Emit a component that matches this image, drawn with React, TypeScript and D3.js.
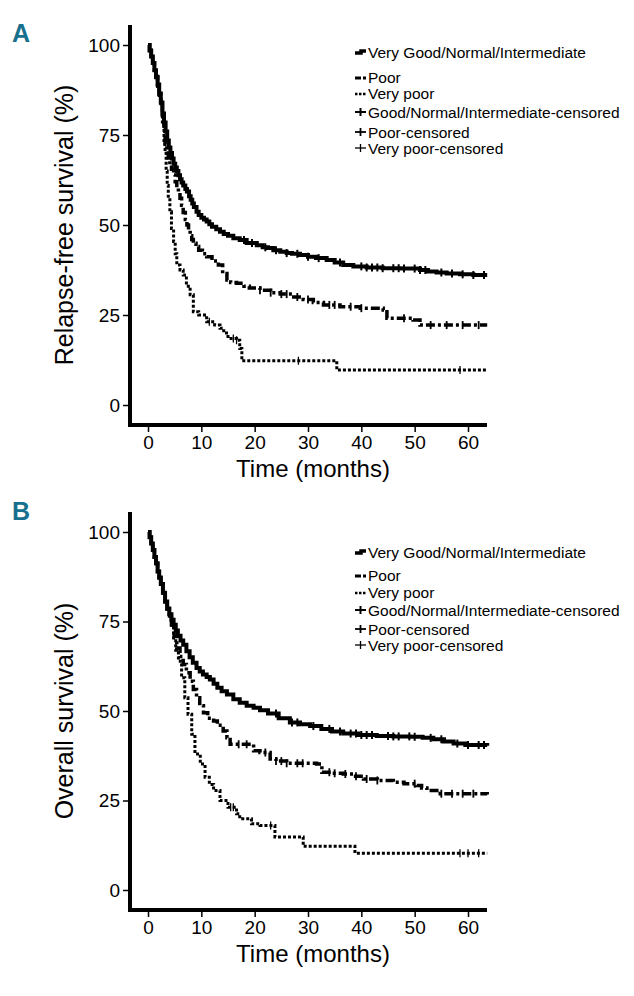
import React, { useEffect, useRef } from 'react'
import * as d3 from 'd3'

const monthTicks = [0, 10, 20, 30, 40, 50, 60]
const survivalTicks = [0, 25, 50, 75, 100]

const legendLabels = [
  'Very Good/Normal/Intermediate',
  'Poor',
  'Very poor',
  'Good/Normal/Intermediate-censored',
  'Poor-censored',
  'Very poor-censored',
]

// A: relapse-free survival, [month, %]
const rfsVeryGood = [
  [0, 100], [0.3, 98.5], [0.6, 96.8], [0.9, 95], [1.2, 93], [1.5, 91.2], [1.8, 89], [2.1, 86.5], [2.4, 84],
  [2.7, 81], [3, 78.5], [3.3, 76], [3.6, 73.5], [3.9, 71.5], [4.2, 70], [4.5, 68.5], [4.8, 67], [5.1, 66],
  [5.4, 65], [5.7, 63.8], [6, 62.7], [6.3, 61.8], [6.6, 61], [7, 60], [7.3, 59.3], [7.7, 58], [8, 57],
  [8.3, 56], [8.6, 55], [9.1, 53.7], [9.5, 52.8], [10, 52], [10.5, 51.5], [11, 51], [11.5, 50.2], [12, 49.5],
  [12.8, 48.8], [13.5, 48.1], [14.2, 47.5], [15, 47], [16, 46.3], [17.2, 45.8], [18.5, 45], [20.4, 44.4],
  [21.5, 43.8], [22.5, 43.6], [23.5, 43], [24.8, 42.6], [26, 42.2], [27, 42], [28.5, 41.7], [30, 41.2],
  [31.5, 40.8], [33.5, 40.3], [35, 39.6], [36.6, 38.9], [38.5, 38.5], [41, 38.2], [44, 38], [47.3, 37.9],
  [51, 37.5], [52.5, 37.1], [54.1, 36.8], [56, 36.5], [58.5, 36.3], [61, 36.1], [63.6, 36.1],
]
const rfsVeryGoodCensored = [18, 19.5, 22, 24, 26, 28, 30, 32, 36, 40, 41, 42, 43, 44, 46, 47, 48, 50, 51, 52, 55, 57, 59, 61, 63]

const rfsPoor = [
  [0, 100], [0.3, 98.5], [0.6, 96.8], [0.9, 95], [1.2, 93], [1.5, 91], [1.8, 88.8], [2.1, 86.3], [2.4, 83.8],
  [2.7, 80.5], [3, 76.5], [3.2, 72.5], [3.5, 70], [3.8, 68], [4.1, 66.8], [4.4, 65.5], [4.8, 63.9], [5.1, 62],
  [5.4, 60.5], [5.7, 59], [6, 57.4], [6.3, 55.5], [6.6, 53.5], [7, 51.5], [7.3, 50], [7.6, 48.5], [7.9, 47],
  [8.2, 46], [8.5, 44.9], [9, 44], [9.5, 43], [10.2, 42], [11, 41.2], [12, 40], [13.2, 38.9], [14, 36.5],
  [14.8, 34.7], [15.5, 34], [16.6, 33.8], [18, 33], [19, 32.5], [21, 31.9], [23, 31.2], [24.8, 30.8], [27, 30],
  [29.1, 29.3], [31, 28.5], [32.9, 27.8], [36, 27.3], [39.8, 26.9], [44.1, 26.4], [44.8, 24.1], [49.7, 23.6],
  [51, 22.2], [63.6, 22.2],
]
const rfsPoorCensored = [21, 23, 25, 26, 28, 30, 34, 35, 38, 40, 48, 53, 56, 59, 62]

const rfsVeryPoor = [
  [0, 100], [0.3, 98.5], [0.6, 96.8], [0.9, 95], [1.2, 93], [1.5, 91], [1.8, 88.5], [2.1, 86], [2.4, 83],
  [2.7, 78], [3, 73], [3.2, 70.4], [3.4, 65], [3.6, 61], [3.8, 58], [4.1, 53.7], [4.4, 49], [4.8, 45.4],
  [5.1, 42], [5.4, 38.9], [6, 37.5], [6.6, 36.1], [7.2, 33], [7.9, 30.6], [8.5, 25.9], [9.5, 25], [11, 23.1],
  [12.5, 22.2], [13.5, 21.3], [14.2, 20], [15, 18.5], [16.6, 18], [17.2, 15.7], [17.6, 12.3], [35.4, 9.7],
  [63.6, 9.7],
]
const rfsVeryPoorCensored = [11.5, 16, 16.6, 28.2, 58.5]

// B: overall survival, [month, %]
const osVeryGood = [
  [0, 100], [0.3, 98.5], [0.6, 96.8], [0.9, 95], [1.2, 93], [1.5, 91.3], [1.8, 89], [2.1, 87.3], [2.4, 85.5],
  [2.8, 83], [3.2, 80.6], [3.6, 78.6], [4, 77], [4.4, 75.5], [4.8, 74.1], [5.2, 72.5], [5.6, 71], [6.1, 69.7],
  [6.6, 68.5], [7.2, 66.7], [7.8, 65], [8.4, 63.5], [9.1, 62], [9.7, 61], [10.3, 60.2], [11, 59.5],
  [11.6, 58.8], [12.3, 57.6], [13, 56.5], [13.8, 55.5], [14.8, 54.6], [16, 53.3], [17.2, 52.3], [18.5, 51.5],
  [19.8, 50.9], [21, 50.2], [22.5, 49.3], [24.5, 48], [26.6, 46.8], [28.5, 46.3], [30.4, 45.8], [32.5, 45],
  [34.5, 44.3], [36.6, 43.7], [39.5, 43.3], [42.9, 43], [46, 42.9], [49.1, 42.8], [51.5, 42.5], [53.5, 42.1],
  [55.5, 41.5], [57.3, 40.9], [59.5, 40.5], [63.6, 40.3],
]
const osVeryGoodCensored = [24, 27, 28, 31, 34, 36, 38, 39, 40, 41, 42, 45, 46, 47, 49, 50, 53, 55, 58, 60, 62, 63]

const osPoor = [
  [0, 100], [0.3, 98.5], [0.6, 96.8], [0.9, 95], [1.2, 93], [1.5, 91.2], [1.8, 89], [2.1, 87.2], [2.4, 85.5],
  [2.8, 83], [3.2, 80.5], [3.6, 78.4], [4, 76.5], [4.4, 74], [4.9, 70.8], [5.4, 67.6], [6, 65.2], [6.6, 63],
  [7.2, 60.7], [7.9, 58.3], [8.5, 56], [9.1, 53.7], [9.7, 51.5], [10.4, 49.5], [11.2, 48], [12.3, 47.2],
  [13, 46], [14.1, 44.4], [14.8, 42.5], [15.4, 40.7], [19.8, 38.9], [21, 38.4], [22.9, 36.6], [24, 36],
  [26, 35.4], [31.6, 35.2], [32.6, 32.9], [34.5, 32.6], [36.6, 32.4], [38.5, 31.8], [40.4, 31], [43, 30.6],
  [46, 30.1], [48, 29.7], [50.4, 29.2], [51.3, 28.5], [52.3, 27.8], [54.8, 26.9], [63.6, 26.7],
]
const osPoorCensored = [17, 18.5, 22, 24, 25, 26, 28, 29, 34, 35, 37, 39, 41, 43, 50, 55, 57, 59, 61]

const osVeryPoor = [
  [0, 100], [0.3, 98.5], [0.6, 96.8], [0.9, 95], [1.2, 93], [1.5, 91.2], [1.8, 89], [2.1, 87.2], [2.4, 85.5],
  [2.8, 83], [3.2, 80.5], [3.6, 78.4], [4, 76.5], [4.4, 73.5], [4.8, 70.4], [5.2, 67], [5.7, 63.9],
  [6.3, 59.3], [6.9, 53.7], [7.5, 49.1], [8.2, 43.5], [8.8, 38], [9.8, 35.2], [10.7, 31.5], [11.5, 29.5],
  [12.3, 27.8], [13.5, 25], [15, 23.1], [16.6, 21.3], [17.2, 19.9], [19.4, 18.5], [21, 18], [23.8, 14.8],
  [29.1, 12.2], [38.8, 10.3], [63.6, 10.3],
]
const osVeryPoorCensored = [15.5, 16, 23, 58.5, 60, 62]

const FONT = "'Liberation Sans', Arial, sans-serif"
const TEAL = '#16708e'

const lineStyles = [
  { width: 4, dash: null, legendDash: null, tick: 2 },
  { width: 3.5, dash: '9,3,3,3', legendDash: '6,2,3', tick: 1.8 },
  { width: 3, dash: '3,2', legendDash: '2.5,1.5', tick: 1.3 },
]

const panels = [
  {
    letter: 'A', yLabel: 'Relapse-free survival (%)',
    curves: [[rfsVeryGood, rfsVeryGoodCensored], [rfsPoor, rfsPoorCensored], [rfsVeryPoor, rfsVeryPoorCensored]],
    top: 25, y0: 405, y100: 45, axisY: 425, letterY: 42,
    legendY: [52, 77, 93, 112, 132, 148],
  },
  {
    letter: 'B', yLabel: 'Overall survival (%)',
    curves: [[osVeryGood, osVeryGoodCensored], [osPoor, osPoorCensored], [osVeryPoor, osVeryPoorCensored]],
    top: 512, y0: 890, y100: 532, axisY: 910, letterY: 520,
    legendY: [552, 575, 592, 610, 629, 645],
  },
]

const survAt = (pts: number[][], t: number) => {
  let v = pts[0][1]
  for (const p of pts) if (p[0] <= t) v = p[1]
  return v
}

export default function App() {
  const ref = useRef<SVGSVGElement>(null)

  useEffect(() => {
    const svg = d3.select(ref.current)
    svg.selectAll('*').remove()

    const x = d3.scaleLinear().domain([0, 60]).range([148, 468])
    const axisX = 130
    const axisRight = 487

    panels.forEach(p => {
      const y = d3.scaleLinear().domain([0, 100]).range([p.y0, p.y100])
      const g = svg.append('g')

      g.append('text').text(p.letter)
        .attr('x', 12).attr('y', p.letterY)
        .attr('font-family', FONT).attr('font-weight', 'bold')
        .attr('font-size', 25).attr('fill', TEAL)

      // axes
      const yAxis = d3.axisLeft(y).tickValues(survivalTicks).tickSize(7).tickSizeOuter(0).tickPadding(3)
      const yg = g.append('g').attr('transform', `translate(${axisX},0)`).call(yAxis)
      const xAxis = d3.axisBottom(x).tickValues(monthTicks).tickSize(7).tickSizeOuter(0).tickPadding(4)
      const xg = g.append('g').attr('transform', `translate(0,${p.axisY})`).call(xAxis)
      ;[yg, xg].forEach(a => {
        a.select('.domain').remove()
        a.selectAll('.tick line').attr('stroke', '#000').attr('stroke-width', 1.5)
        a.selectAll('.tick text').attr('font-family', FONT).attr('font-size', 19).attr('fill', '#000')
      })

      g.append('path')
        .attr('d', `M${axisX},${p.top}V${p.axisY}H${axisRight}`)
        .attr('fill', 'none').attr('stroke', '#000').attr('stroke-width', 4)

      g.append('text').text('Time (months)')
        .attr('x', 313).attr('y', p.axisY + 52)
        .attr('text-anchor', 'middle')
        .attr('font-family', FONT).attr('font-size', 24)

      g.append('text').text(p.yLabel)
        .attr('transform', `translate(73,${(p.top + p.axisY) / 2}) rotate(-90)`)
        .attr('text-anchor', 'middle')
        .attr('font-family', FONT).attr('font-size', 25)

      // curves
      const line = d3.line<number[]>().x(d => x(d[0])).y(d => y(d[1])).curve(d3.curveStepAfter)
      p.curves.forEach(([pts, cens], i) => {
        const s = lineStyles[i]
        g.append('path')
          .attr('d', line(pts as number[][]))
          .attr('fill', 'none').attr('stroke', '#000')
          .attr('stroke-width', s.width)
          .attr('stroke-dasharray', s.dash)
          .attr('stroke-linejoin', 'miter')
        g.selectAll(null).data(cens as number[]).join('line')
          .attr('x1', d => x(d)).attr('x2', d => x(d))
          .attr('y1', d => y(survAt(pts as number[][], d)) - 4)
          .attr('y2', d => y(survAt(pts as number[][], d)) + 4)
          .attr('stroke', '#000').attr('stroke-width', s.tick)
      })

      // legend
      const lg = g.append('g')
      legendLabels.forEach((label, i) => {
        const ly = p.legendY[i]
        const s = lineStyles[i % 3]
        if (i < 3) {
          lg.append('path')
            .attr('d', i === 0 ? `M355,${ly + 1}H361V${ly - 1}H366` : `M355,${ly + 1}H366`)
            .attr('fill', 'none').attr('stroke', '#000')
            .attr('stroke-width', s.width - 0.5).attr('stroke-dasharray', s.legendDash)
        } else {
          lg.append('line').attr('x1', 355).attr('x2', 366).attr('y1', ly).attr('y2', ly)
            .attr('stroke', '#000').attr('stroke-width', s.tick)
          lg.append('line').attr('x1', 360.5).attr('x2', 360.5).attr('y1', ly - 4).attr('y2', ly + 4)
            .attr('stroke', '#000').attr('stroke-width', s.tick)
        }
        lg.append('text').text(label)
          .attr('x', 368).attr('y', ly + 5.5)
          .attr('font-family', FONT).attr('font-size', 15.5)
      })
    })
  }, [])

  return (
    <svg ref={ref} width={634} height={996}
      style={{ position: 'absolute', left: 0, top: 0, display: 'block', background: '#fff' }} />
  )
}
